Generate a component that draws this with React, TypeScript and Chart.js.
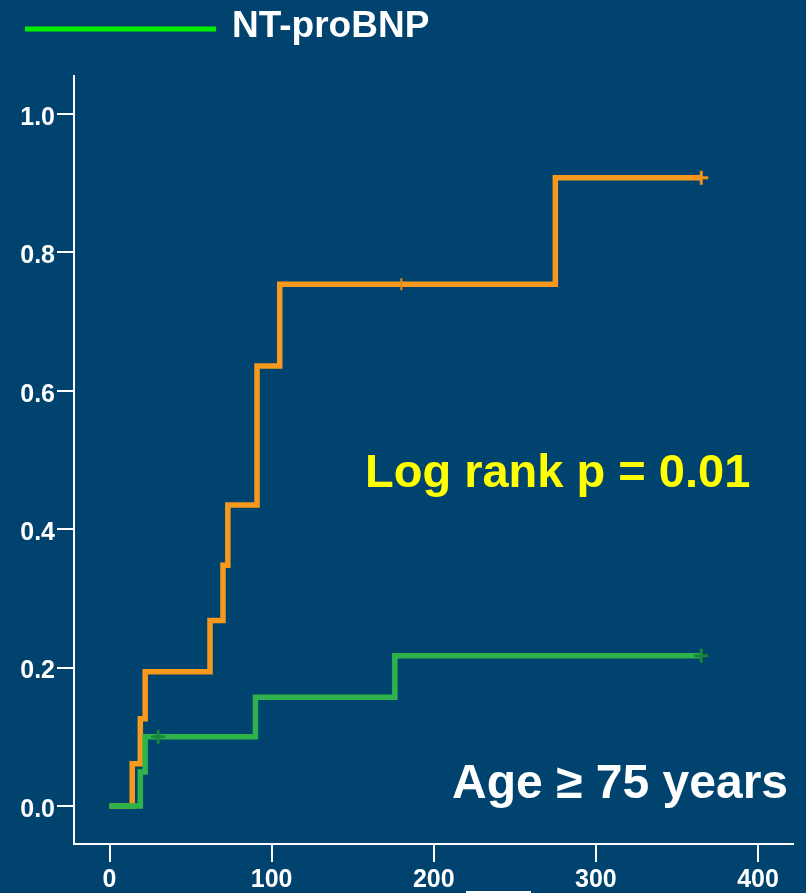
import React, { useEffect, useRef } from "react";
import { Chart, registerables } from "chart.js";

Chart.register(...registerables);

const BG = "#00436F";
const FONT = "'Liberation Sans', Arial, Helvetica, sans-serif";

// Kaplan-Meier step data (days, cumulative event rate)
const highTimes = [0, 14, 19, 22, 62, 70, 73, 91, 105, 275, 365];
const highValues = [0, 0.061, 0.126, 0.194, 0.268, 0.348, 0.435, 0.636, 0.754, 0.908, 0.908];
const lowTimes = [0, 19, 22, 90, 176, 365];
const lowValues = [0, 0.049, 0.1, 0.157, 0.217, 0.217];

// censored observations
const highCensorTickTimes = [180];
const highCensorTickValues = [0.754];
const highCensorCrossTimes = [365];
const highCensorCrossValues = [0.908];
const lowCensorTimes = [30, 365];
const lowCensorValues = [0.1, 0.217];

const xTickValues = [0, 100, 200, 300, 400];
const yTickValues = [0, 0.2, 0.4, 0.6, 0.8, 1.0];

const legendLabel = "NT-proBNP";
const pValueText = "Log rank p = 0.01";
const subgroupText = "Age \u2265 75 years";

const toPoints = (xs: number[], ys: number[]) => xs.map((x, i) => ({ x, y: ys[i] }));

const textPlugin = {
  id: "texts",
  afterDraw(chart: any) {
    const ctx = chart.ctx as CanvasRenderingContext2D;
    ctx.save();
    // legend
    ctx.strokeStyle = "#00F000";
    ctx.lineWidth = 5;
    ctx.beginPath();
    ctx.moveTo(25, 29);
    ctx.lineTo(216, 29);
    ctx.stroke();
    ctx.fillStyle = "#FFFFFF";
    ctx.font = `bold 37px ${FONT}`;
    ctx.textBaseline = "alphabetic";
    ctx.textAlign = "left";
    ctx.fillText(legendLabel, 232, 37);
    // p value
    ctx.fillStyle = "#FFFF00";
    ctx.font = `bold 47px ${FONT}`;
    ctx.fillText(pValueText, 365, 487);
    // subgroup
    ctx.fillStyle = "#FFFFFF";
    ctx.font = `bold 48px ${FONT}`;
    ctx.textAlign = "right";
    ctx.fillText(subgroupText, 788, 798);
    ctx.restore();
  },
};

export default function App() {
  const ref = useRef<HTMLCanvasElement>(null);

  useEffect(() => {
    document.body.style.margin = "0";
    document.body.style.background = BG;
    const canvas = ref.current!;
    const chart = new Chart(canvas, {
      type: "line",
      data: {
        datasets: [
          {
            label: "low censor",
            data: toPoints(lowCensorTimes, lowCensorValues),
            showLine: false,
            pointStyle: "cross",
            pointRadius: 7,
            borderWidth: 3,
            borderColor: "#17853A",
            backgroundColor: "#17853A",
          },
          {
            label: "low",
            data: toPoints(lowTimes, lowValues),
            stepped: true,
            borderColor: "#2DB34A",
            borderWidth: 5.5,
            pointRadius: 0,
            fill: false,
          },
          {
            label: "high censor cross",
            data: toPoints(highCensorCrossTimes, highCensorCrossValues),
            showLine: false,
            pointStyle: "cross",
            pointRadius: 7,
            borderWidth: 3,
            borderColor: "#F0921A",
            backgroundColor: "#F0921A",
          },
          {
            label: "high censor tick",
            data: toPoints(highCensorTickTimes, highCensorTickValues),
            showLine: false,
            pointStyle: "line",
            pointRotation: 90,
            pointRadius: 6,
            borderWidth: 2,
            borderColor: "#E08A1A",
            backgroundColor: "#E08A1A",
          },
          {
            label: "high",
            data: toPoints(highTimes, highValues),
            stepped: true,
            borderColor: "#F7991D",
            borderWidth: 5.5,
            pointRadius: 0,
            fill: false,
          },
        ],
      },
      options: {
        responsive: false,
        animation: false,
        devicePixelRatio: 1,
        layout: { padding: { top: 76, right: 13, left: 0, bottom: 0 } },
        plugins: {
          legend: { display: false },
          tooltip: { enabled: false },
        },
        scales: {
          x: {
            type: "linear",
            min: -21.9,
            max: 421.6,
            afterBuildTicks: (s: any) => {
              s.ticks = xTickValues.map((v) => ({ value: v }));
            },
            afterFit: (s: any) => {
              s.height = 49;
            },
            grid: {
              display: true,
              drawOnChartArea: false,
              drawTicks: true,
              tickLength: 18,
              color: "#FFFFFF",
              lineWidth: 2,
            },
            border: { display: true, color: "#FFFFFF", width: 2 },
            ticks: {
              color: "#FFFFFF",
              font: { family: FONT, size: 25, weight: "bold" },
              padding: 3,
              maxRotation: 0,
              autoSkip: false,
              callback: (v: any) => String(v),
            },
          },
          y: {
            type: "linear",
            min: -0.055,
            max: 1.055,
            afterBuildTicks: (s: any) => {
              s.ticks = yTickValues.map((v) => ({ value: v }));
            },
            afterFit: (s: any) => {
              s.width = 74;
            },
            grid: {
              display: true,
              drawOnChartArea: false,
              drawTicks: true,
              tickLength: 17,
              color: "#FFFFFF",
              lineWidth: 2,
            },
            border: { display: true, color: "#FFFFFF", width: 2 },
            ticks: {
              color: "#FFFFFF",
              font: { family: FONT, size: 25, weight: "bold" },
              padding: 2,
              labelOffset: 4,
              autoSkip: false,
              callback: (v: any) => Number(v).toFixed(1),
            },
          },
        },
      },
      plugins: [textPlugin],
    });
    return () => chart.destroy();
  }, []);

  return (
    <div style={{ position: "relative", width: 806, height: 893, background: BG, overflow: "hidden" }}>
      <canvas ref={ref} width={806} height={893} style={{ display: "block" }} />
      <div style={{ position: "absolute", left: 466, top: 891, width: 65, height: 2, background: "#FFFFFF" }} />
    </div>
  );
}
